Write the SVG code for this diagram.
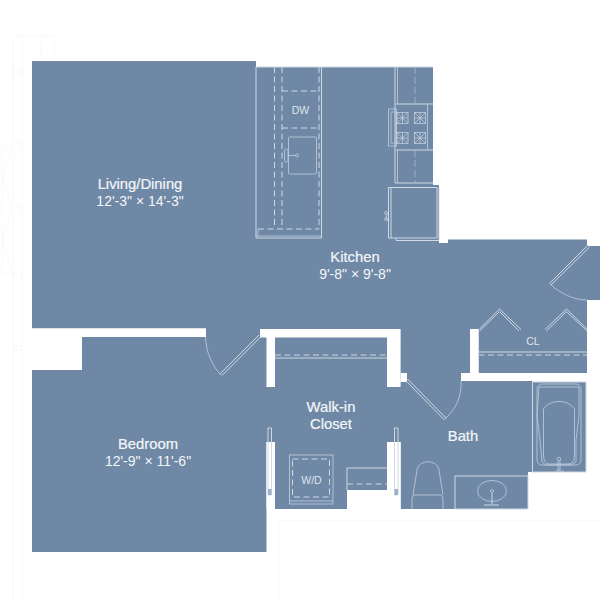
<svg xmlns="http://www.w3.org/2000/svg" width="600" height="600" viewBox="0 0 600 600">
<style>
.l{fill:none;stroke:#cfd8e3;stroke-width:1}
.t{fill:none;stroke:#c3cede;stroke-width:.8}
.d{fill:none;stroke:#cfd8e3;stroke-width:1;stroke-dasharray:6 3.500}
.d2{fill:none;stroke:#a9b9cc;stroke-width:.8;stroke-dasharray:7 3}
.f{fill:none;stroke:#f8f9fa;stroke-width:1}
text{font-family:"Liberation Sans",Arial,sans-serif;fill:#f4f6f9;text-anchor:middle}
.h{font-size:14.800px;stroke:#f4f6f9;stroke-width:.2}
.n{font-size:14px}
.s{font-size:10.500px;fill:#dfe5ec}
</style>
<rect width="600" height="600" fill="#fff"/>
<g id="faint-shell" class="f">
<path class="f" d="M13 36V600M22 36V600M13 36H54V48H41M41 36V60M54 48V60M22 48H40M2 146H13M2 146V208H13L2 178L13 146M2 208V273H13L2 240L13 208M279 600V521H600"/>
<rect class="f" x="14" y="70" width="8" height="4"/><rect class="f" x="14" y="143" width="8" height="4"/><rect class="f" x="14" y="207" width="8" height="4"/><rect class="f" x="14" y="272" width="8" height="4"/><rect class="f" x="14" y="346" width="8" height="4"/>
</g>
<path id="floor" fill="#6f88a5" d="M32 61H256V67H433V185H439V243H448V239.500H587V246H600V300H587V373H478.500V329H470V373H461V381H532V382H586V472H528V509H400.600V442H387V490H347V509H275V442H266.500V552H32V370H82V337H206V328.500H32ZM206 328.500H260V329H400.600V337H387V387H400.600V329H470V373H400.600V382H407V373H461V381H400.600V387H275V337H266.500V387H275V442H266.500V337H206Z"/>
<g id="walls" fill="#fff">
<rect x="32" y="328.500" width="174" height="8.500"/>
<rect x="260" y="329" width="140.600" height="8.500"/>
<rect x="266.500" y="337" width="8.500" height="50"/>
<rect x="387" y="337" width="13.600" height="50"/>
<rect x="400.600" y="373" width="6.400" height="9"/>
<rect x="461" y="373" width="126" height="8"/>
<rect x="470" y="329" width="8.500" height="44"/>
<rect x="266.500" y="442" width="8.500" height="67"/>
<rect x="387" y="442" width="13.600" height="67"/>
<rect x="347" y="490" width="40" height="19"/>
<rect x="532" y="381" width="1" height="91" fill="#d7dfe8"/>
</g>
<g id="kitchen-counter">
<path class="l" d="M256 67V238H321.500V67M256 67H433"/>
<path class="t" d="M258 236V229M256 236H321"/>
<path class="d" d="M274.500 67V228M282 67V228M319 67V229M258 229H319M282 91H319M282 128H319"/>
<rect class="t" x="288.500" y="137" width="28" height="37" rx="1"/>
<rect class="t" x="284.500" y="149" width="3.500" height="13" rx="1.700"/>
<path class="t" d="M288 155.500H295"/><circle class="t" cx="297" cy="155.500" r="1.500"/>
<text class="s" x="300.500" y="113.500">DW</text>
</g>
<g id="range-wall">
<path class="l" d="M395 67V183H433M396 104H433M396 150H433"/>
<path class="t" d="M397.500 67V104M397.500 150V183M427.500 104V150"/>
<path class="d2" d="M415 67V104M415 150V183"/>
<rect class="t" x="388.500" y="109" width="8" height="37"/><rect class="t" x="391" y="112" width="5" height="31"/>
<g id="b1"><rect class="t" x="397" y="112.500" width="11" height="11"/><path class="t" d="M397 112.500L408 123.500M408 112.500L397 123.500M402.500 112.500V123.500M397 118H408"/></g>
<use href="#b1" x="17.500"/><use href="#b1" y="20"/><use href="#b1" x="17.500" y="20"/>
</g>
<g id="fridge">
<path class="l" d="M388.500 187.500H437V238H388.500ZM391 187.500V238M396 238V240.500H439V187.500"/>
<path class="t" d="M388 213C386 215 386 219 388 221"/>
<circle class="t" cx="386" cy="213" r="1.500"/><circle class="t" cx="386" cy="219" r="1.500"/>
</g>
<g id="doors">
<path class="l" d="M259 335L220 374M261 336.500L222 375.500"/>
<path class="t" d="M205.500 337C206 352 212 366 221 375"/>
<path class="l" d="M407.500 379L446 418M406 381L444.500 420"/>
<path class="t" d="M461 381C462 396 456 409 445 419"/>
<path class="l" d="M588 245L549.500 283.500M589.500 247L551 285"/>
<path class="t" d="M550 284C561 294 574 300 587 300"/>
<path class="l" d="M479.500 329L499.500 309L521 329.500M479.500 331L499.500 311.500L519 331M545 329.500L566.500 309L587 329M546.500 331L566.500 311.500L587 331"/>
<path class="l" d="M394.500 428H398V495H394.500ZM268 428H271.500V495H268Z"/>
<rect x="394.500" y="489" width="3.500" height="6" fill="#9fb0c4"/><rect x="268" y="489" width="3.500" height="6" fill="#9fb0c4"/>
</g>
<g id="closets">
<path class="l" d="M478.500 352H587M275 358H387M347 490V468H387"/>
<path class="d" d="M478.500 355H587M275 355H387M347 484H387"/>
<rect class="t" x="289.500" y="455" width="43.500" height="49"/>
<path class="t" d="M289.500 501H333"/>
<rect class="d" x="292.500" y="459" width="37" height="38"/>
<text class="s" x="311.500" y="484">W/D</text>
<text class="s" x="533" y="344.500">CL</text>
</g>
<g id="bath-fixtures">
<rect class="l" x="532.500" y="382" width="53.500" height="90"/>
<rect class="l" x="455" y="476" width="73" height="33"/>
<rect class="t" x="537" y="384" width="44" height="81" rx="5"/>
<path class="t" d="M539 387H579V416L576 440V462L571 465H546L542 462L540 440L537 416ZM543.500 409C550 399 568 399 574.500 409V455Q574.500 464 568 464H550Q543.500 464 543.500 455Z"/>
<circle class="t" cx="559" cy="459" r="1.700"/><path class="t" d="M558 461V470H560V461M555 471H564"/>
<ellipse class="t" cx="492" cy="491" rx="14.500" ry="10.500"/>
<circle class="t" cx="492" cy="491" r="1.500"/><path class="l" d="M492 493V504M484 505H499"/>
<path class="t" d="M413 495L417 470C419 459 437 459 439 470L443 495M415 495H440Q443 495 443 499V509M412 509V499Q412 495 415 495"/>
</g>
<g id="labels">
<text class="h" x="140" y="189">Living/Dining</text>
<text class="n" x="140" y="206">12'-3" × 14'-3"</text>
<text class="h" x="355" y="262">Kitchen</text>
<text class="n" x="355" y="279">9'-8" × 9'-8"</text>
<text class="h" x="148" y="449">Bedroom</text>
<text class="n" x="148" y="466">12'-9" × 11'-6"</text>
<text class="h" x="331" y="412">Walk-in</text>
<text class="h" x="331" y="429">Closet</text>
<text class="h" x="463" y="441">Bath</text>
</g>
</svg>
